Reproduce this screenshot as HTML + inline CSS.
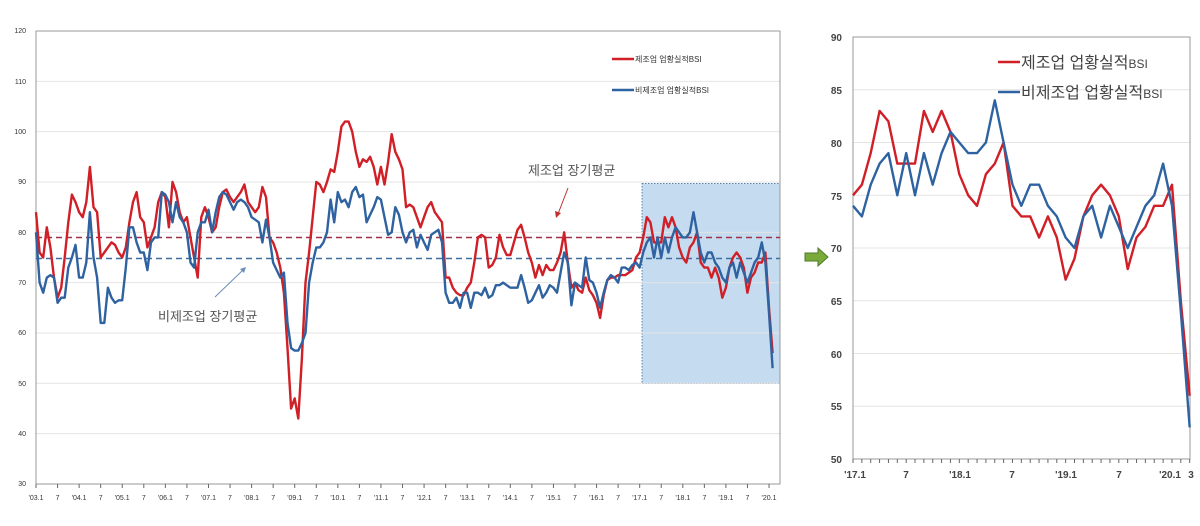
<!DOCTYPE html>
<html><head><meta charset="utf-8"><style>
html,body{margin:0;padding:0;background:#fff;}
svg{display:block;font-family:"Liberation Sans","Noto Sans CJK KR",sans-serif;}
.t{font-size:7px;fill:#333;}
.r{font-size:10px;fill:#444;font-weight:bold;}
</style></head><body>
<svg id="s" width="1200" height="526" viewBox="0 0 1200 526" xmlns="http://www.w3.org/2000/svg">
<rect width="1200" height="526" fill="#fff"/>
<rect x="642" y="183.5" width="138" height="200" fill="#c5dcf0" stroke="#5a7fa8" stroke-width="1" stroke-dasharray="1.5,1.5"/>
<g stroke="#e4e4e4" stroke-width="1" id="lg"></g>
<rect x="36" y="31" width="744" height="453" fill="none" stroke="#999" stroke-width="1"/>
<g class="t" text-anchor="end">
<text x="26" y="33">120</text><text x="26" y="84">110</text><text x="26" y="134">100</text><text x="26" y="184">90</text><text x="26" y="235">80</text><text x="26" y="285">70</text><text x="26" y="335">60</text><text x="26" y="386">50</text><text x="26" y="436">40</text><text x="26" y="486">30</text>
</g>
<g class="t" text-anchor="middle">
<text x="36" y="500">'03.1</text><text x="57.6" y="500">7</text><text x="79.1" y="500">'04.1</text><text x="100.7" y="500">7</text><text x="122.2" y="500">'05.1</text><text x="143.8" y="500">7</text><text x="165.4" y="500">'06.1</text><text x="186.9" y="500">7</text><text x="208.5" y="500">'07.1</text><text x="230" y="500">7</text><text x="251.6" y="500">'08.1</text><text x="273.2" y="500">7</text><text x="294.7" y="500">'09.1</text><text x="316.3" y="500">7</text><text x="337.8" y="500">'10.1</text><text x="359.4" y="500">7</text><text x="381" y="500">'11.1</text><text x="402.5" y="500">7</text><text x="424.1" y="500">'12.1</text><text x="445.6" y="500">7</text><text x="467.2" y="500">'13.1</text><text x="488.8" y="500">7</text><text x="510.3" y="500">'14.1</text><text x="531.9" y="500">7</text><text x="553.4" y="500">'15.1</text><text x="575" y="500">7</text><text x="596.6" y="500">'16.1</text><text x="618.1" y="500">7</text><text x="639.7" y="500">'17.1</text><text x="661.2" y="500">7</text><text x="682.8" y="500">'18.1</text><text x="704.4" y="500">7</text><text x="725.9" y="500">'19.1</text><text x="747.5" y="500">7</text><text x="769" y="500">'20.1</text>
</g>
<g id="lt" stroke="#666" stroke-width="1"></g>
<line x1="36" y1="237.5" x2="780" y2="237.5" stroke="#a03045" stroke-width="1.6" stroke-dasharray="6,4"/>
<line x1="36" y1="258.5" x2="780" y2="258.5" stroke="#3f6f9f" stroke-width="1.6" stroke-dasharray="6,4"/>
<polyline id="lr" fill="none" stroke="#d01f26" stroke-width="2.4" stroke-linejoin="round"/>
<polyline id="lb" fill="none" stroke="#2e62a0" stroke-width="2.4" stroke-linejoin="round"/>
<line x1="612" y1="59" x2="634" y2="59" stroke="#d01f26" stroke-width="2.5"/>
<text x="635" y="62" style="font-size:8px;fill:#333">제조업 업황실적BSI</text>
<line x1="612" y1="90" x2="634" y2="90" stroke="#2e62a0" stroke-width="2.5"/>
<text x="635" y="93" style="font-size:8px;fill:#333">비제조업 업황실적BSI</text>
<text x="528" y="175" style="font-size:13px;fill:#555">제조업 장기평균</text>
<line x1="568" y1="188" x2="558" y2="214" stroke="#c03030" stroke-width="1"/>
<polygon points="556,218 555,211 561,213" fill="#c03030"/>
<text x="158" y="321" style="font-size:13px;fill:#555">비제조업 장기평균</text>
<line x1="215" y1="297" x2="243" y2="270" stroke="#6a8fb8" stroke-width="1"/>
<polygon points="246,267 240,269 244,273" fill="#6a8fb8"/>
<polygon points="805,253 818,253 818,248 828,257 818,266 818,261 805,261" fill="#7aab3a" stroke="#4d7a2a" stroke-width="1"/>
<g stroke="#e4e4e4" stroke-width="1" id="rg"></g>
<rect x="853" y="37" width="337" height="422" fill="none" stroke="#999" stroke-width="1"/>
<g class="r" text-anchor="end">
<text x="842" y="41">90</text><text x="842" y="94">85</text><text x="842" y="147">80</text><text x="842" y="200">75</text><text x="842" y="252">70</text><text x="842" y="305">65</text><text x="842" y="358">60</text><text x="842" y="410">55</text><text x="842" y="463">50</text>
</g>
<g id="rt" stroke="#666" stroke-width="1"></g>
<g class="r" text-anchor="middle">
<text x="855" y="478">'17.1</text><text x="906" y="478">7</text><text x="960" y="478">'18.1</text><text x="1012" y="478">7</text><text x="1066" y="478">'19.1</text><text x="1119" y="478">7</text><text x="1170" y="478">'20.1</text><text x="1191" y="478">3</text>
</g>
<polyline id="rr" fill="none" stroke="#d01f26" stroke-width="2.4" stroke-linejoin="round"/>
<polyline id="rb" fill="none" stroke="#2e62a0" stroke-width="2.4" stroke-linejoin="round"/>
<line x1="998" y1="62" x2="1020" y2="62" stroke="#d01f26" stroke-width="2.5"/>
<text x="1021" y="68" style="font-size:16px;fill:#444">제조업 업황실적<tspan style="font-size:12px">BSI</tspan></text>
<line x1="998" y1="92" x2="1020" y2="92" stroke="#2e62a0" stroke-width="2.5"/>
<text x="1021" y="98" style="font-size:16px;fill:#444">비제조업 업황실적<tspan style="font-size:12px">BSI</tspan></text>
</svg>
<script>
var R=[84,76,75,81,77,71,67,69,75,82,87.5,86, 84,83,86,93,85,84,75,76,77,78,77.5,76, 75,77,82,86,88,83,82,77,79,81,86,88, 87,81,90,88,84,82,83,79,75,71,83,85, 83,80,81,85,88,88.5,87,86,87,88,89.5,86, 85,84,85,89,87,79,78,76,73,68,57,45, 47,43,55,70,76,83,90,89.5,88,90,92.5,92, 96,101,102,102,100,96,93,94.5,94,95,93,89.5, 93,89.5,94,99.5,96,
94.5,92.5,85,85.5,85,83,81,83,85,86,84,83,82,71,71,69,68,67.5,67.5,69,70,74,79,79.5,79,73,73.5,75,79.5,77,75.5,75.5,78,80.5,81.5,79,76,74,71,73.5,71.5,73.5,72.5,72.5,74,76,80,74,69,70,68.5,68,71,68.5,67.5,66,63,67.5,70.5,71,71,71.5,71.5,71.5,72,72.5];
var B=[80,70,68,71,71.5,71,66,67,67,73,75,77.5, 71,71,74,84,75,71,62,62,69,67,66,66.5, 66.5,73,81,81,78,76,76,72.5,78,79,79,88, 87.5,86,82,86,83,82,80,74,73,80,82,82, 84.5,80,84,87,88,87.5,86,84.5,86,86.5,86,85, 83,82.5,82,78,82.5,79,74,72.5,71,72,62,57, 56.5,56.5,58,60,70,74,77,77,78,80,86.5,82, 88,86,86.5,85,88,89,87,87.5,82,83.5,85,87, 86.5,83,79.5,80,85,
83.5,80,78,80,80.5,77,79.5,78,76.5,79.5,80,80.5,78,68,66,66,67,65,68,68,65,68,68,67.5,69,67,67.5,69.5,69.5,70,69.5,69,69,69,71.5,69,66,66.5,68,69.5,67,68,69.5,69,68,72,76,74,65.5,70,69.5,69,75,70.5,70,68,65,68,70.5,71.5,71,70,73,73,72.5,73.5];
var R2=[75,76,79,83,82,78,78,78,83,81,83,81, 77,75,74,77,78,80,74,73,73,71,73,71, 67,69,73,75,76,75,73,68,71,72,74,74, 76,65,56];
var B2=[74,73,76,78,79,75,79,75,79,76,79,81,80,79,79,80,84,80,76,74,76,76,74,73,71,70,73,74,71,74,72,70,72,74,75,78,74,64,53];
var LR=R.concat(R2),LB=B.concat(B2);
function lp(a){return a.map(function(v,i){return (36+i*3.593).toFixed(1)+","+(31+(120-v)*5.033).toFixed(1)}).join(" ")}
function rp(a){return a.map(function(v,i){return (853+i*8.86).toFixed(1)+","+(37+(90-v)*10.55).toFixed(1)}).join(" ")}
document.getElementById("lr").setAttribute("points",lp(LR));
document.getElementById("lb").setAttribute("points",lp(LB));
document.getElementById("rr").setAttribute("points",rp(R2));
document.getElementById("rb").setAttribute("points",rp(B2));
var NS="http://www.w3.org/2000/svg";
function ln(g,x1,y1,x2,y2){var l=document.createElementNS(NS,"line");l.setAttribute("x1",x1);l.setAttribute("y1",y1);l.setAttribute("x2",x2);l.setAttribute("y2",y2);document.getElementById(g).appendChild(l);}
for(var k=1;k<9;k++){var y=31+k*50.33;ln("lg",36,y,780,y);}
for(var k=0;k<35;k++){var x=36+k*21.56;ln("lt",x,484,x,488);}
for(var k=1;k<8;k++){var y=37+k*52.75;ln("rg",853,y,1190,y);}
for(var k=0;k<39;k++){var x=853+k*8.86;ln("rt",x,459,x,463);}
</script>
</body></html>
